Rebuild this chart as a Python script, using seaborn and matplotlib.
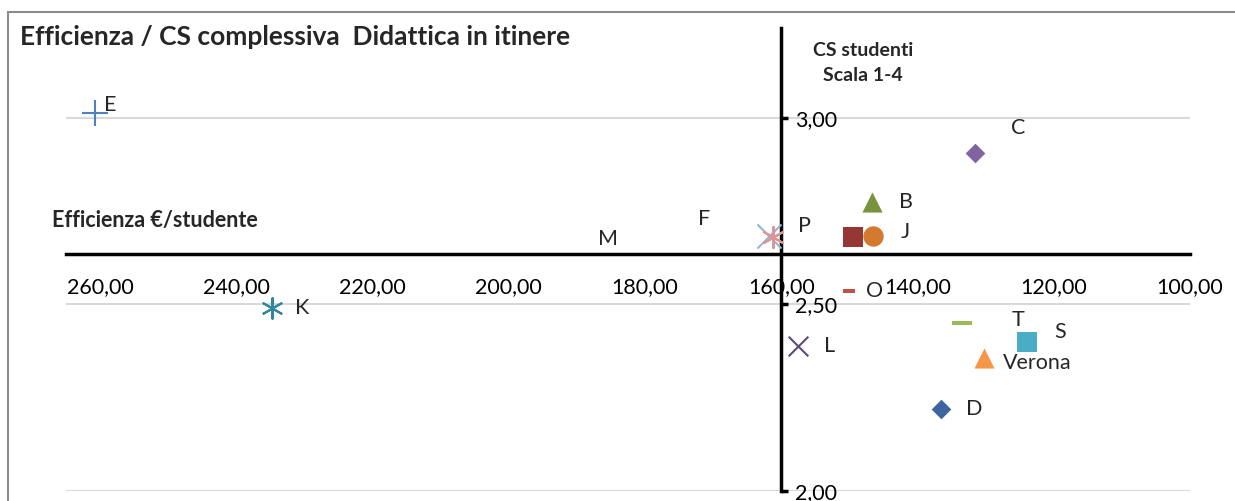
import matplotlib
matplotlib.use("Agg")
import matplotlib.pyplot as plt
from matplotlib.patches import Rectangle
from matplotlib.ticker import FuncFormatter
import seaborn as sns

# DATI
names = ['E', 'K', 'M', 'F', 'P', 'L', 'O', '', 'J', 'B', 'C', 'D', 'T', 'S', 'Verona']
efficienza = [260.7, 234.7, 185.4, 161.8, 161.2, 157.5, 150.0, 149.4, 146.6, 146.7, 131.5, 136.6, 133.5, 124.0, 130.3]
cs_studenti = [3.013, 2.489, 2.676, 2.684, 2.680, 2.388, 2.535, 2.679, 2.684, 2.775, 2.904, 2.219, 2.449, 2.398, 2.356]

x_ticks = [260, 240, 220, 200, 180, 160, 140, 120, 100]
y_ticks = [2.0, 2.5, 3.0]
x_cross = 160
y_cross = 2.636

# stile: marker, colore, dimensione, spostamento etichetta (pixel)
dash_long = [(-1, -0.25), (1, -0.25), (1, 0.25), (-1, 0.25), (-1, -0.25)]
dash_short = [(-1, -0.45), (1, -0.45), (1, 0.45), (-1, 0.45), (-1, -0.45)]
style = {
    'E': ('+', '#4F81BD', 330, (9, 8)),
    'K': ((6, 2, 0), '#31859C', 220, (23, 0)),
    'M': (None, 'black', 0, (0, 0)),
    'F': ('x', '#95B3D7', 300, (-71, 17)),
    'P': ((6, 2, 0), '#D99694', 230, (25, 11)),
    'L': ('x', '#5F497A', 200, (26, 0)),
    'O': (dash_short, '#C0504D', 63, (17, 0)),
    '': ('s', '#953735', 215, (0, 0)),
    'J': ('o', '#D47A30', 215, (28, 4)),
    'B': ('^', '#77933C', 210, (27, 0)),
    'C': ('D', '#8064A2', 100, (36, 25)),
    'D': ('D', '#3C649F', 100, (25, 0)),
    'T': (dash_long, '#9BBB59', 207, (50, 3)),
    'S': ('s', '#4BACC6', 215, (28, 10)),
    'Verona': ('^', '#F79646', 210, (19, -5)),
}

sns.set_theme(style='white')
plt.rcParams['font.family'] = ['Lato', 'DejaVu Sans']

fig = plt.figure(figsize=(12.35, 5.01), dpi=100)
ax = fig.add_axes([66 / 1235, 10 / 501, (1190 - 66) / 1235, (491 - 28) / 501])

for name, xv, yv in zip(names, efficienza, cs_studenti):
    marker, color, size, offset = style[name]
    if marker is not None:
        line_art = marker in ('x', '+') or isinstance(marker, tuple)
        sns.scatterplot(x=[xv], y=[yv], marker=marker, color=color, s=size,
                        linewidth=1.5 if line_art else 0, edgecolor=color,
                        ax=ax, zorder=4, legend=False)
    if name == 'M':
        ax.annotate(name, (xv, yv), ha='center', va='center', fontsize=15.5)
    elif name:
        ax.annotate(name, (xv, yv), xytext=offset, textcoords='offset pixels',
                    ha='left', va='center', fontsize=15.5)

ax.set_xlim(265, 100)
ax.set_ylim(2.0, 3.24)
ax.set_xticks(x_ticks)
ax.set_yticks(y_ticks)
fmt = FuncFormatter(lambda v, p: f'{v:.2f}'.replace('.', ','))
ax.xaxis.set_major_formatter(fmt)
ax.yaxis.set_major_formatter(fmt)
ax.set_xlabel('')
ax.set_ylabel('')

ax.yaxis.grid(True, color='#D9D9D9', linewidth=1.5)
ax.xaxis.grid(False)
ax.set_axisbelow(True)

for s in ['top', 'left']:
    ax.spines[s].set_visible(False)
ax.spines['right'].set_position(('data', x_cross))
ax.spines['bottom'].set_position(('data', y_cross))
for s in ['right', 'bottom']:
    ax.spines[s].set_color('black')
    ax.spines[s].set_linewidth(2.5)
    ax.spines[s].set_zorder(3)
ax.yaxis.tick_right()
ax.tick_params(axis='y', direction='out', length=5, width=2.5, pad=5, labelsize=15.5, colors='black')
ax.tick_params(axis='x', direction='out', length=8, width=2.5, pad=9, labelsize=15.5, colors='black')

# titoli
fig.text(20 / 1235, 1 - 37 / 501, 'Efficienza / CS complessiva  Didattica in itinere',
         fontsize=19, fontweight='bold', va='center', ha='left')
fig.text(52 / 1235, 1 - 220 / 501, 'Efficienza €/studente',
         fontsize=15.5, fontweight='bold', va='center', ha='left')
fig.text(863 / 1235, 1 - 63 / 501, 'CS studenti\nScala 1-4',
         fontsize=14, fontweight='bold', va='center', ha='center', linespacing=1.6)

# bordo grigio
fig.patches.append(Rectangle((8 / 1235, -0.02), 1.0, 1 - 12 / 501 + 0.02,
                             transform=fig.transFigure, fill=False,
                             edgecolor='#8C8C8C', linewidth=1.5))

fig.savefig('out.png', dpi=100)
